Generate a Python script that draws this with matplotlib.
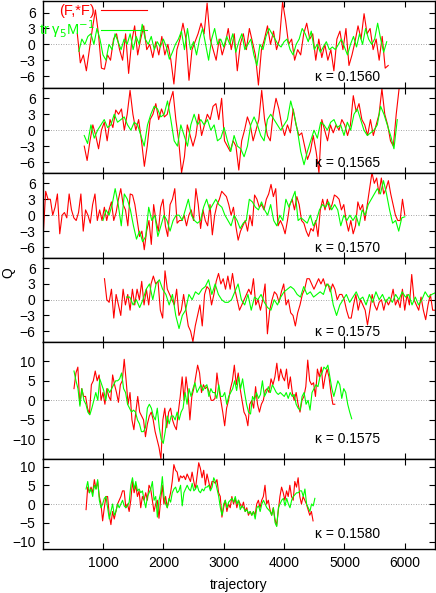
import numpy as np
import matplotlib
matplotlib.use("Agg")
import matplotlib.pyplot as plt

plt.rcParams['font.family'] = ['Liberation Sans', 'DejaVu Sans']
plt.rcParams['font.size'] = 10

# kappa of each run, top to bottom
kappas = ["0.1560", "0.1565", "0.1570", "0.1575", "0.1575", "0.1580"]

# first / last trajectory of each series
red_span = [(575, 5725), (690, 5905), (12, 6000), (1025, 6500), (520, 4840), (720, 4480)]
green_span = [(600, 5700), (690, 5875), (1000, 6000), (1390, 6500), (520, 5120), (720, 4510)]

# topological charge (F,*F)
red_1560 = [2, -3.5, -2, -5, -1, 3, 6.5, 2, -4.5, -4.7, -2, -3, 1, 2, -1, -3, 2, -5.5, 0.5, 3.5,
            -2, 1, 3.5, -1, 0, -2.5, 0.5, -2, 1.5, -2, 0, -3, -7.5, -1, 1, 4, 1, -6.8, -1, 0.5,
            2, 4, 2, 7.8, 1, -1, -3, 1, -2, 0, 3, -1, 2, -5, 0, 2, -1, 3, 0.5, -2,
            -7.7, -1, 1, 3.5, 0, 2.5, -1, 1, 8, 4.5, 0, 1, -3, -1, -2, 2, 4, 1, 2, -3,
            1, -2.5, 0, -3, -1, -5, 1, 2.5, -1, 3, -4, -2, 0.5, 3.5, 1, 5.8, 2, 3, -1, 1,
            -3, 1.5, -4.5, -4]
red_1565 = [-3, -5.7, -2, 1, -1, -3.5, 0, 1.5, -2, 2, 0.5, 3.8, 3, 4, 0, 3, 7.5, 3, 0, 2,
            -2, -6.8, -3, 2, 3, 5, 2, 4, 2.5, 3, 5.5, 7.3, 2, -2, -8, -5, 1, -1, -3, -1,
            3, -1, 1, 3, 2, 4.5, 5, 2, 6, -2, -3, -4, -2, -3, -7.5, -2, 0, 2.5, 1, -2,
            0, 2, 7.5, 2, -1, -2, 3, 6, 4, 1, -1, 1, -0.5, 4, 1, -1, -0.5, -3, -5.5, -4,
            -1, -4, -8, 2, 0, -2, 1, -0.5, 1, 0, 2, 1, -1, 1, 6.5, 3.5, 5, 2, 1, -1,
            2, -1, 1, 3, 7.8, 3, 1, -2, -3, 3, 7.8]
red_1570 = [-3.5, 4.5, 3, 3, 0, 1.5, 4, -3.5, 0, 0.5, -0.5, 4, 1, -0.5, -1, 0.5, 4, -3, 1, 0,
            -1.5, 2, 4, -1, 1, -1, 1.5, -1, 1, 2.5, -1, 0.5, 3, 5, 2, 1, -2, 4, 3.8, 2,
            -1, -4, -3, -6.5, -3, -1, -5.5, 2, -1, -3, 1.5, 3, -2, -4, 2, 3, 5, -1.5, -1, -1,
            0, -2, 0, 1, -1, 5, 2, -2.5, 1, -1, -2, 2, -3.7, 0, 2, 3, 4.5, 4, 3.5, 2,
            0, 1.5, -2, -4.7, -3, -2, -1, -3, 0, -2, 3.8, 3, 1.5, 2, 1, 3, 4, 5.8, 3.5, 5,
            -2, -1, -2, -3.5, -1, 2, 3, 1, 3.5, 2, -1, -1.5, -3, -4, -2.5, -3, -1, -4, 1, 3,
            1, 3, 1, 2, 3.8, 3.5, 3, 1, 2, -1, -3, -1, -3.5, -2, 2.5, 1, 2, -1, 2, 5,
            8, 6, 7, 4, 7, 4, 5, 6.5, 4, 2, 0, -1, -1, 3, 0]
red_1575a = [4, 0, -0.5, 2, -3.5, 1, -1, -3, 2, -1, 1, -2, 2, -1, 2, 0, 3.5, -1, 2, -1,
             3, 4.5, 3, 3.5, -2, -3.5, 5.5, 2, 1, 0, -1, 2, -3, -2, 1, -2, -5, -6, -8, -5,
             -3, -1, -5, 1, 2.5, 2, -1, 1, 3.5, 5, 3, 4, 2, 4.5, 2, 5, 2, 0, -2, -1,
             0, 1, 2, 1, 4, -1, 0, -2, 0, 3, -6.5, -2, 0, 1.5, 1, -0.5, 1.5, 3, -1, 0,
             -2.5, -3, -5, -2.5, -1, 1, 2, 4, 4, 3, 2, 3, 4, 3, 4, 2.5, 3, 1.5, 3, 2,
             0, 1, 1, 0, -2, -3.5, -3.5, -1, 1, -2, 0, -1, -2, -4.8, -2, 1, -1, -2, -0.5, 0,
             -2, 0, -1, 0, 2, -1, 0, -1.5, 2, -2, 1, -1, 4.8, 0, -1, -2, 0.5, -2, -3.8, -1,
             1, -2, -2]
red_1575b = [3, 7, 8.5, -1, 3, 1, 1, -2, -3.5, 4, 5, 7.5, 5, 6.5, 0, 2, -1, 3, 1, 0,
             6.5, 4, 2, -0.5, 4, 5, 10.5, 5, -1, 2, -5, -7.5, -3, 1, -3, -4, -5, -9.3, -6, -4,
             -3, -5, -8, -10, -12, -15, -5, -2, -7, -3, -2, -5, -6.5, -7.5, -3, 1, 6, 0, 6, 2,
             -5, 1, 3, 6, 9, 7, 2, 4, 3, 3.5, 2, 0, 0, 0.5, 7, 3, 0, -3, -6.5, -2,
             0, 3, 5, 9, 4, 7, 3, 0, -3, -4, -6.5, -1, 0, -2, 3.5, -1, -3, -1, 0, 2.5,
             3, 2, 5.5, 4, 6, 9.5, 5, 8, 6, 5, 8, 3, 6, 2, 0, 2, -1, -3, 0, 1,
             3.5, 10.3, 5, 4, 4.5, 1, 8, 6, 8.5, 3, 6, 8, 6, 2, -1, -1]
red_1580 = [-1.5, 4.5, 3, 4.5, 3, 6.5, 4, 6, 2, 0, -4.5, -1, 2, 2, -3, -5.5, -2, -4, -2, 0,
            1, 2, 3.5, 3.5, -1, 0, -2, 1, 6, 3, 5, 2, 3.5, -1, 2, 1, 3, 1, 5, 4,
            1, -2, 0, 1, -3.8, 1, 5, 0, 2, -1, 1, 3, 6, 10.5, 9, 8.5, 6, 7.5, 7, 7.5,
            6.5, 8, 7, 6, 8.5, 6, 4, 7.5, 11, 9.5, 7, 9, 5, 8, 6, 4, 6, 6, 5.5, 6.5,
            3, 2, -3.5, -1, 1, -2, 0, -1, 2, 0, 1.5, -1, 1, 0, -1, 0.5, -2, -1, -3, -2,
            -3, -2, -3, 0, 1, -1, 1, 2, 5, 0, 1, -1.5, -3, -1, -4, -5.8, -2, 2, 4.5, 3,
            1, 3.5, 2, 5, 2, 1, 6, 4.5, 7, 2, 0, 2, 1, 0, -1.5, -3, -2, -4.5]

# fermionic estimate tr gamma5 M^-1
green_1560 = [-1.3, 1, 0, 1.5, 2, 0, 3, 1, -2, -3, 0, -1, 2, 0.5, -1, 1, 0, 2, -1, 1.5,
              0, 3.8, 1, 0, 1.5, -1, 0.5, -0.5, 1, -0.5, -2.8, -1.5, 0, 1, 2.5, -1, 3, -1, 0.5, -2,
              1, 3, 0, -3, 1, 3, 0, 1, -0.5, 1.5, 0, 2, -1.5, 0.5, 2, -1, 0, 1, -2, -4,
              0, -1, 1.5, 3, 2, 1, 0, -0.5, 0.5, 1, -1, -2, 0, 1, 3, 2, 0.5, 2.5, -1, 0,
              -1.5, -0.5, 0.5, -1, -0.5, -1, 0, 1, -0.5, -2, 0, 1.5, -0.5, 2, 0, 3, 1, 0, 1, 4,
              1, -1.5, 0.5]
green_1565 = [-1, -2.5, 1, -1.5, 0, 1, 2, 0.5, 1, 3, 1.5, 2, 2.5, 1, 0, 1.5, 1, -1, -3, 1,
              3, 4.5, 4, 2.5, 3, 5.5, 2, -2, -3, 1, -1, -3, 1, 3, 1, 2, 1, 2, 0, 1,
              -2, -1.5, 0.5, -2, -4, -1, -3, -3.5, -5, -3, 1, 2.5, 1, -1, -2, 2, 3, 2, 1, 0,
              1, 2, 5.5, 3, 0, -4, -6.5, -4, -2, 0, -1.5, 1.5, 1, 0, 1.5, 2, 0.5, 1, -1, 1.5,
              0, 3, 4, 2, 0, -1, -0.5, 0, 1, 4.5, 3, 1, -1, -3.5, 2]
green_1570 = [-1, 1, 0, 2, 5, 2, -2, 4, 3, 1, -2, -4.5, -3, -5, -4, 1.5, -1, 0, -4, -2,
              0, -1, -3, -1, 0, 0, -1, 1, 3, 0, -1, -1.5, -1, 1.5, 3, 1, 2, 3, 2, 1.5,
              0, -1, -2, 0, -1, -2.5, -1.5, -1, 3, 2.5, 1.5, 1, 2.5, 1, 0, 2, -1, -2, 0, -1,
              3, 1.5, 3, 4.5, -1, -0.5, -1, -1.5, 0, -2, -1, 1, 2, 1.5, 2.5, 1, 2, 1, -2, 0,
              -1, 0, -1, 0, -2, 1, 0, 2, 3, 4, 5, 4, 6.5, 4, 1, -1.5, -1, -3, -0.5, -0.3]
green_1575a = [0.5, 0.5, -1, 0, -1.5, 0, 2, 3, 0, 3, 3.8, 2, 1, -1, 1, -3, -5.5, -3, -2, 1,
               0, 1.5, 1, 2, 2.5, 3.8, 1, 3, 1, 0, -0.5, -0.5, 0, 1.5, 3, 0, -1, 1, -2, 0.5,
               0, 1, -0.5, -1.5, -2, 0, -1, 0.5, 1.5, 2, 2.5, 2, 1, 0.5, 2.5, 1, 1.5, 0.5, 1, 1.5,
               1, 3, 2.5, -1, -3, -1, 0, 1, -0.5, 0.5, 1.5, 0, 0.5, -1, 1, -0.5, 1.5, 0, 1, -0.5,
               0.5, -0.5, 1, 0, 1.5, 0.5, 1, -1, 0.5, -1, 0, 1.5, 0.5, 1, 1.3]
green_1575b = [7.5, 5, 3, -1.5, 3, 0, -1, -3, -3.7, -2, 0, 2, 0, 5.5, 4, 2.5, 0, 3, 2, 3,
               4, 5, 5, 5.5, 7, 3, 2, -1, -2, -3, -2.5, -3, -5, -6, -8, -8, -7, -2, -1, -2,
               -4, -5, -2, -7, -10, -11, -8, -4, -6, -4, -4, -5, -3, -5, -3, -2, 2, -1, 3, 1,
               3, 4.5, 2, 3, 4, 2.5, 3.5, 4, 1, 3, 2, 2, 0.5, 4, 1, 1, 2, -1, 1, 2,
               3, 5, 2.5, 6, 3, 5.5, 2, -1, -3, -3.5, 1, 0, 2, 0.5, 1.5, 5, 1, 2, 3.5, 2,
               4, 3, 2, 1.5, 2, 1.5, 1, 2, 0.5, 2, 1, 1.5, -1, -2, -2.5, 1, 2, -1, 0, -2.5,
               2, 3, 4, 3.5, 6, 7, 8.5, 8, 9, 6, 3, 1, 3, 5, 4, 0.5, 3, 2, -1, -3, -4.7]
green_1580 = [4, 6, 3, 4, 2, 5, 4, 6.5, 1, -1, 0, 1.5, 2, -1, -4, -2, 0, -3, -2, 0,
              -1, 0, 1, -0.5, -1, -0.5, 0.5, 5, 7, 4, 6, 3.5, 4, 3, 3.5, 1, -1, 2, 3, 4,
              6, 1, 2, -3.5, 1, 3, 7.3, 2, 0, -1, 1.5, 0.5, 3, 4, 4.5, 3, 3.5, 5, -0.5, 3,
              4, 5, 4, 3.5, 5.5, 3.5, 4, 5, 3.5, 3, 4, 3.5, 4.5, 4.5, 5, 3.5, 4.5, 7, 6, 4,
              2, -1, -3, 0, 1, -1, 0.5, 1, 1.5, 0.5, 2, 0, 1, -1.5, -0.5, -1, -2, -1.5, -2.5, -2,
              -3, -2, -4, -1, -0.5, -2, 0, 1, 0, -1, -1.5, -2, -3, -1, -5, -6, -1, 0, 1, 1.5,
              -0.5, 1.5, 0, -1, 1, 2, 2.5, 3, 3, 3.5, 3.5, 2, 4, 0, -1, -2, 0, -0.5, 1.5]

red_q = [red_1560, red_1565, red_1570, red_1575a, red_1575b, red_1580]
green_q = [green_1560, green_1565, green_1570, green_1575a, green_1575b, green_1580]

# layout (pixels from top of a 436x593 figure)
W, H = 436, 593
left, right = 42.6, 435
edges = [1, 87.7, 172.7, 257.7, 341.7, 459, 549]
ylims = [8.2, 8, 8, 8, 15, 12]
yticks = [[-6, -3, 0, 3, 6]] * 4 + [[-10, -5, 0, 5, 10]] * 2
label_y = [-6.1, -6.1, -6.1, -6.1, -10, -8]

fig = plt.figure(figsize=(W / 100, H / 100), dpi=100)
axes = []
for i in range(6):
    top, bot = edges[i], edges[i + 1]
    ax = fig.add_axes([left / W, 1 - bot / H, (right - left) / W, (bot - top) / H])
    axes.append(ax)

    xr = np.linspace(red_span[i][0], red_span[i][1], len(red_q[i]))
    xg = np.linspace(green_span[i][0], green_span[i][1], len(green_q[i]))
    ax.plot(xr, red_q[i], color='#ff0000', lw=0.8, label='(F,*F)')
    ax.plot(xg, green_q[i], color='#00ff00', lw=0.8, label='tr γ$_5$M$^{-1}$')
    ax.axhline(0, color='#888888', ls=(0, (1, 2)), lw=0.6, zorder=0)

    ax.set_xlim(0, 6500)
    ax.set_ylim(-ylims[i], ylims[i])
    ax.set_yticks(yticks[i])
    ax.set_xticks([1000, 2000, 3000, 4000, 5000, 6000])
    ax.tick_params(direction='in', top=True, right=True, length=4, width=0.8,
                   labelsize=10, pad=5)
    if i < 5:
        ax.tick_params(labelbottom=False)
    for s in ax.spines.values():
        s.set_linewidth(1.0)
    ax.text(4510, label_y[i], 'κ = ' + kappas[i], fontsize=10, ha='left', va='center')

leg = axes[0].legend(loc='upper right', bbox_to_anchor=(0.274, 1.0), frameon=False,
                     markerfirst=False, labelcolor='linecolor', handlelength=3.2,
                     borderpad=0.0, borderaxespad=0.2, labelspacing=0.0,
                     handletextpad=0.4, fontsize=10.5)

axes[-1].set_xlabel('trajectory', fontsize=10, labelpad=6)
fig.text(8 / W, 1 - 273 / H, 'Q', rotation=90, ha='center', va='center', fontsize=10)

fig.savefig('out.png', dpi=100)
